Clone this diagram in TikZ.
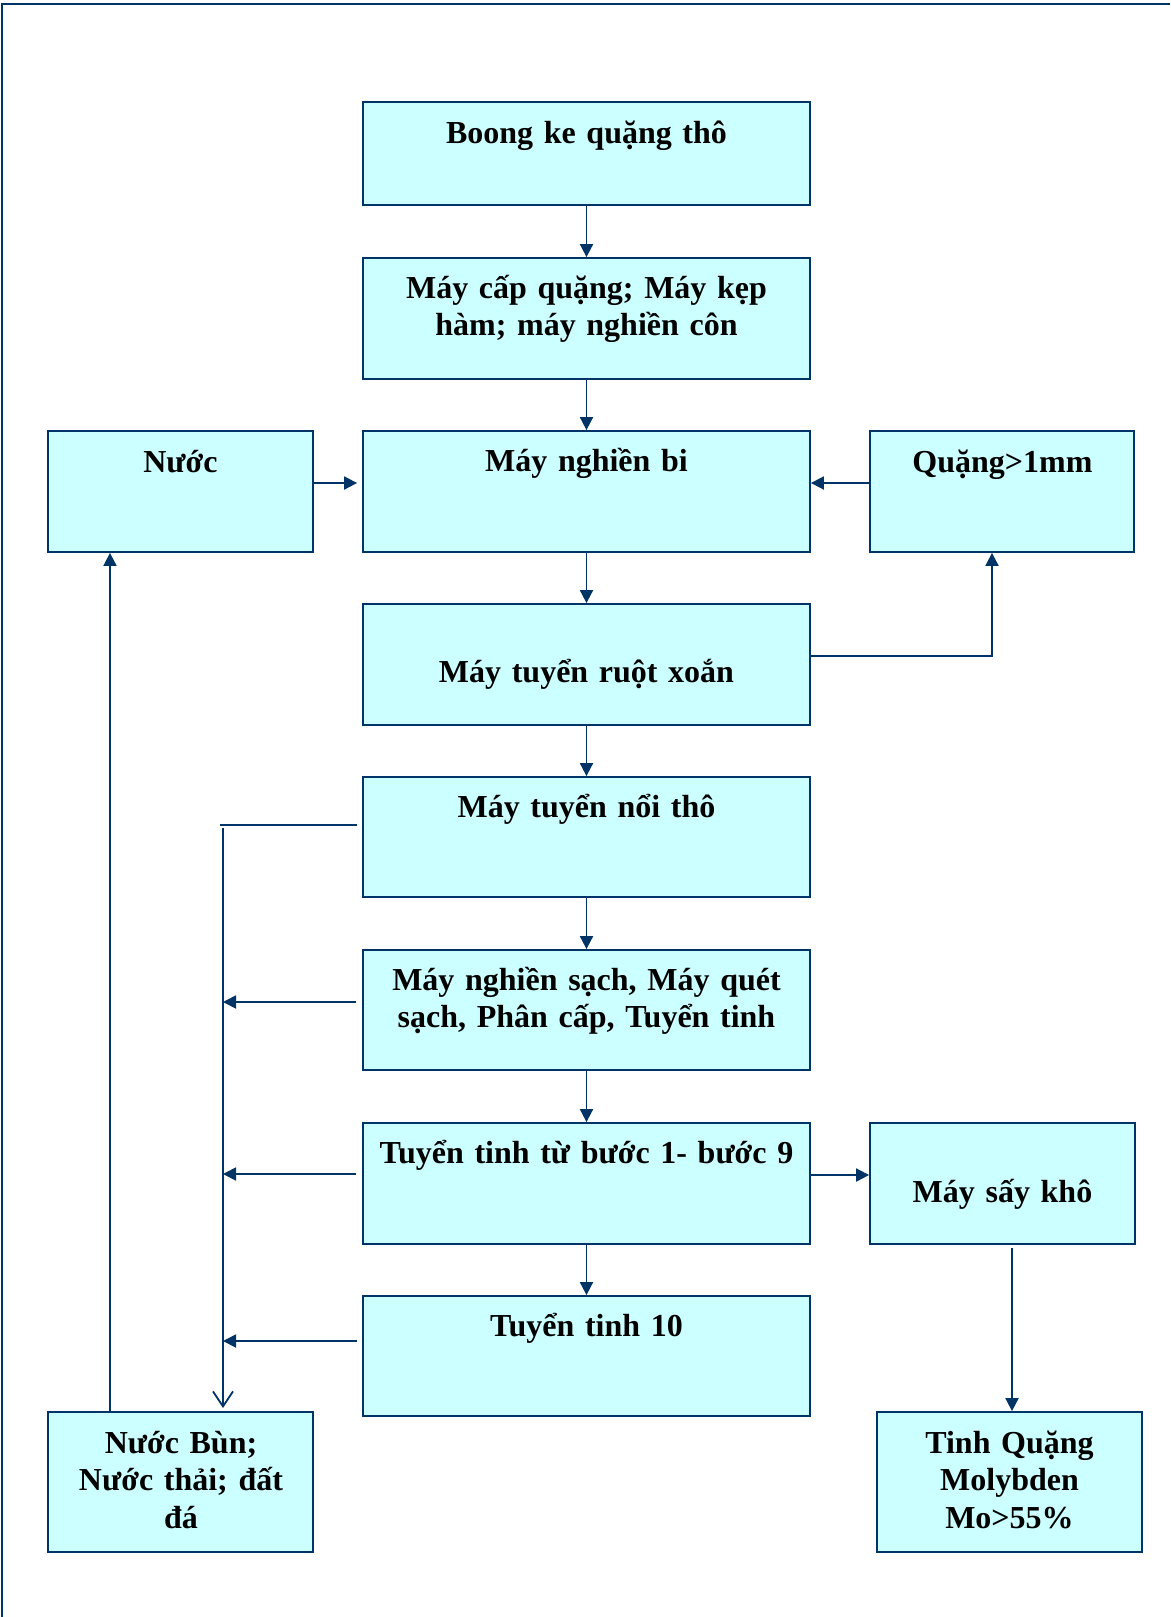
\documentclass[tikz,border=0pt]{standalone}
\usepackage{fontspec}
\setmainfont{Liberation Serif}
\usetikzlibrary{arrows.meta,calc}
\definecolor{boxfill}{HTML}{CCFFFF}
\definecolor{navy}{HTML}{003366}
\tikzset{
  procbox/.style={draw=navy, line width=1.8pt, fill=boxfill, rectangle, inner sep=0pt, anchor=center},
  lbl/.style={anchor=base, inner sep=0pt, align=center, text width=#1,
    font=\fontsize{32}{37.5}\selectfont\bfseries},
  lbl/.default=430pt,
  conn/.style={draw=navy, line width=1.8pt},
  fa/.style={conn, -{Triangle[length=13pt,width=13pt]}},
  oa/.style={conn, -{Straight Barb[length=15pt,width=20pt,line width=1.8pt]}}
}
\begin{document}
\begin{tikzpicture}[x=1pt,y=-1pt]
\useasboundingbox (0,0) rectangle (1170,1617);
\draw[navy, line width=2.5pt] (2,1617) -- (2,4) -- (1170,4);

% boxes
\node[procbox, minimum width=447pt, minimum height=103pt] (b1) at (586.5,153.5) {};
\node[procbox, minimum width=447pt, minimum height=121pt] (b2) at (586.5,318.5) {};
\node[procbox, minimum width=447pt, minimum height=121pt] (b3) at (586.5,491.5) {};
\node[procbox, minimum width=265pt, minimum height=121pt] (nuoc) at (180.5,491.5) {};
\node[procbox, minimum width=264pt, minimum height=121pt] (quang) at (1002,491.5) {};
\node[procbox, minimum width=447pt, minimum height=121pt] (b4) at (586.5,664.5) {};
\node[procbox, minimum width=447pt, minimum height=120pt] (b5) at (586.5,837) {};
\node[procbox, minimum width=447pt, minimum height=120pt] (b6) at (586.5,1010) {};
\node[procbox, minimum width=447pt, minimum height=121pt] (b7) at (586.5,1183.5) {};
\node[procbox, minimum width=447pt, minimum height=120pt] (b8) at (586.5,1356) {};
\node[procbox, minimum width=265pt, minimum height=121pt] (say) at (1002.5,1183.5) {};
\node[procbox, minimum width=265pt, minimum height=140pt] (tinh) at (1009.5,1482) {};
\node[procbox, minimum width=265pt, minimum height=140pt] (bun) at (180.5,1482) {};

% texts
\node[lbl] (t1) at (586.5,143) {Boong ke quặng thô};
\node[lbl] (t2) at (586.5,298) {Máy cấp quặng; Máy kẹp\\hàm; máy nghiền côn};
\node[lbl] (t3) at (586.5,471) {Máy nghiền bi};
\node[lbl=250pt] (tn) at (180.5,472) {Nước};
\node[lbl=250pt] (tq) at (1002.5,472) {Quặng>1mm};
\node[lbl] (t4) at (586.5,682) {Máy tuyển ruột xoắn};
\node[lbl] (t5) at (586.5,817) {Máy tuyển nổi thô};
\node[lbl] (t6) at (586.5,990) {Máy nghiền sạch, Máy quét\\sạch, Phân cấp, Tuyển tinh};
\node[lbl] (t7) at (586.5,1163) {Tuyển tinh từ bước 1- bước 9};
\node[lbl] (t8) at (586.5,1336) {Tuyển tinh 10};
\node[lbl=250pt] (ts) at (1002.5,1202) {Máy sấy khô};
\node[lbl=250pt] (tt) at (1009.5,1453) {Tinh Quặng\\Molybden\\Mo>55\%};
\node[lbl=250pt] (tb) at (181,1453) {Nước Bùn;\\Nước thải; đất\\đá};

% main chain
\draw[fa] (b1.south) -- (b2.north);
\draw[fa] (b2.south) -- (b3.north);
\draw[fa] (b3.south) -- (b4.north);
\draw[fa] (b4.south) -- (b5.north);
\draw[fa] (b5.south) -- (b6.north);
\draw[fa] (b6.south) -- (b7.north);
\draw[fa] (b7.south) -- (b8.north);

% side inputs
\draw[fa] ([yshift=8.5pt]nuoc.east) -- ([yshift=8.5pt,xshift=-5pt]b3.west);
\draw[fa] ([yshift=8.5pt]quang.west) -- ([yshift=8.5pt]b3.east);
\draw[fa] ([yshift=8.5pt]b4.east) -| ([xshift=-10pt]quang.south);

% collector
\coordinate (ctop) at (220,825);
\coordinate (cvt) at (223,828);
\coordinate (cbot) at (223,1408);
\coordinate (a6) at ([yshift=8pt,xshift=-6pt]b6.west);
\coordinate (a7) at ([yshift=9.5pt,xshift=-6pt]b7.west);
\coordinate (a8) at ([yshift=15pt,xshift=-5pt]b8.west);
\draw[conn] ([yshift=12pt,xshift=-5pt]b5.west) -- (ctop);
\draw[oa] (cvt) -- (cbot);
\draw[fa] (a6) -- (a6 -| cvt);
\draw[fa] (a7) -- (a7 -| cvt);
\draw[fa] (a8) -- (a8 -| cvt);

% return water
\draw[fa] ([xshift=-70.5pt]bun.north) -- ([xshift=-70.5pt]nuoc.south);

% product line
\coordinate (p7) at ([yshift=8.5pt]b7.east);
\draw[fa] (p7) -- (p7 -| say.west);
\draw[fa] ([xshift=9.5pt,yshift=-3pt]say.south) -- ([xshift=2.5pt]tinh.north);
\end{tikzpicture}
\end{document}
